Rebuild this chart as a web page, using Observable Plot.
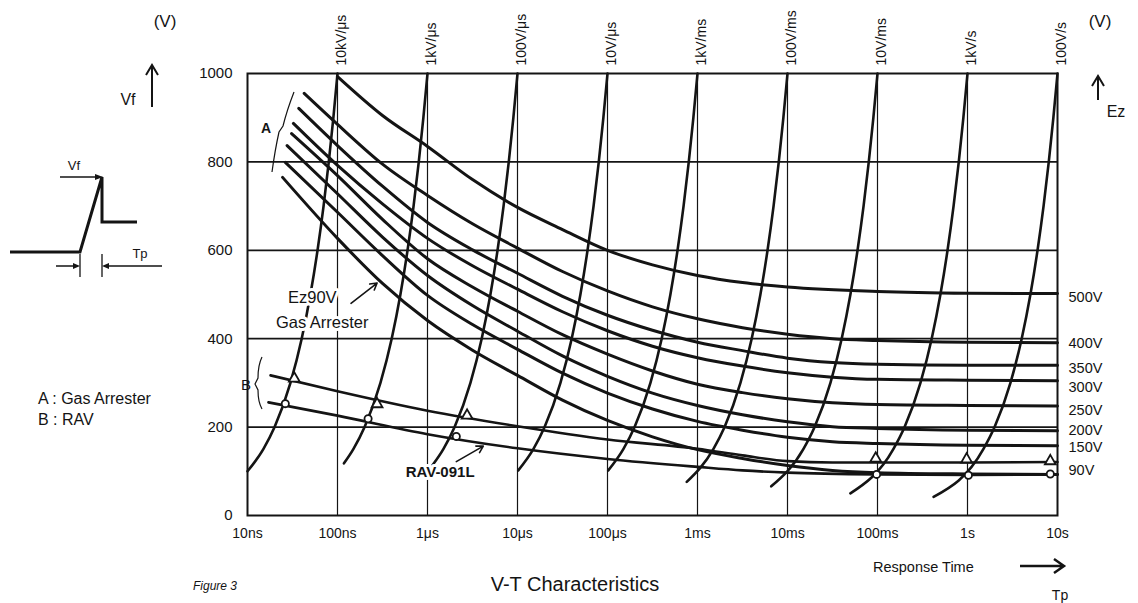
<!DOCTYPE html>
<html><head><meta charset="utf-8">
<script src="https://cdn.jsdelivr.net/npm/d3@7"></script>
<script src="https://cdn.jsdelivr.net/npm/@observablehq/plot@0.6"></script>
<style>body{margin:0;background:#fff} svg{display:block}</style>
</head><body><div id="chart"></div>
<script>
// ---- axis data ----
const decades = [1e-8, 1e-7, 1e-6, 1e-5, 1e-4, 1e-3, 1e-2, 1e-1, 1, 10];
const decadeLabels = ["10ns", "100ns", "1μs", "10μs", "100μs", "1ms", "10ms", "100ms", "1s", "10s"];
const yTicks = [0, 200, 400, 600, 800, 1000];
const gridV = [200, 400, 600, 800];

// ---- ramp (dV/dt) lines ----
const rateLabels = ["10kV/μs", "1kV/μs", "100V/μs", "10V/μs", "1kV/ms", "100V/ms", "10V/ms", "1kV/s", "100V/s"];
const rates = [1e10, 1e9, 1e8, 1e7, 1e6, 1e5, 1e4, 1e3, 1e2];        // V/s
const rampStartV = [100, 118, 113, 102, 102, 76, 66, 50, 42];      // lower end of each ramp (V)
const rampLevels = [150, 200, 300, 400, 500, 600, 700, 800, 900, 1000];

// ---- gas arrester curves (log10 t, V) ----
const ga500 = [[-7.0,993],[-6.5,905],[-6,835],[-5.5,760],[-5,697],[-4.5,647],[-4,600],[-3.5,567],[-3,543],[-2.5,527],[-2,517],[-1,507],[0,503],[1,502]];
const ga400 = [[-7.37,955],[-7,885],[-6.5,795],[-6,724],[-5.5,660],[-5,605],[-4.5,552],[-4,508],[-3.5,472],[-3,445],[-2.5,425],[-2,410],[-1.5,400],[-1,396],[0,392],[1,391]];
const ga350 = [[-7.43,921],[-7,837],[-6.5,745],[-6,663],[-5.5,601],[-5,548],[-4.5,496],[-4,453],[-3.5,419],[-3,392],[-2.5,373],[-2,356],[-1.5,346],[-1,342],[0,340],[1,340]];
const ga300 = [[-7.49,887],[-7,792],[-6.5,705],[-6,627],[-5.5,565],[-5,512],[-4.5,461],[-4,418],[-3.5,383],[-3,357],[-2.5,338],[-2,323],[-1.5,313],[-1,308],[0,306],[1,305]];
const ga250 = [[-7.51,864],[-7,769],[-6.5,670],[-6,581],[-5.5,517],[-5,462],[-4.5,409],[-4,365],[-3.5,327],[-3,297],[-2.5,278],[-2,264],[-1.5,255],[-1,251],[0,249],[1,248]];
const ga200 = [[-7.56,837],[-7,728],[-6.5,630],[-6,543],[-5.5,475],[-5,417],[-4.5,361],[-4,315],[-3.5,277],[-3,249],[-2.5,228],[-2,212],[-1.5,201],[-1,197],[0,193],[1,192]];
const ga150 = [[-7.58,799],[-7,686],[-6.5,588],[-6,498],[-5.5,432],[-5,376],[-4.5,322],[-4,277],[-3.5,241],[-3,213],[-2.5,193],[-2,177],[-1.5,167],[-1,163],[0,159],[1,158]];
const ga90  = [[-7.61,765],[-7,627],[-6.5,525],[-6,441],[-5.5,374],[-5,317],[-4.5,261],[-4,215],[-3.5,178],[-3,149],[-2.5,129],[-2,113],[-1.5,102],[-1,97],[0,94],[1,93]];
const ezLabels = ["500V", "400V", "350V", "300V", "250V", "200V", "150V", "90V"];
const ezLabelV = [493, 389, 333, 290, 238, 192, 154, 102];

// ---- RAV curves (log10 t, V) ----
const ravTri = [[-7.744,317],[-7,281],[-6,237],[-5,202],[-4,172],[-3,151],[-2.5,136],[-2,123],[-1.5,120],[-1,120],[0,120],[1,121]];
const ravCirc = [[-7.767,256],[-7,226],[-6,184],[-5,152],[-4,128],[-3,110],[-2.5,102],[-2,97],[-1,93],[0,92],[1,93]];
const triMarks = [[-7.48,310],[-6.56,252],[-5.56,226],[-1.02,129],[-0.01,127],[0.92,123]];
const circMarks = [[-7.58,253],[-6.66,219],[-5.68,179],[-1.01,93],[0.01,91],[0.92,94]];

// ---- build tables ----
const gasCurves = [ga500, ga400, ga350, ga300, ga250, ga200, ga150, ga90];
const gasRows = gasCurves.flatMap((c, k) => c.map(([lt, v]) => ({t: 10 ** lt, v, k})));
const ravRows = [ravTri, ravCirc].flatMap((c, k) => c.map(([lt, v]) => ({t: 10 ** lt, v, k})));
const rampRows = rates.flatMap((r, k) =>
  [rampStartV[k], ...rampLevels.filter(v => v > rampStartV[k])].map(v => ({t: v / r, v, k})));
const toPts = a => a.map(([lt, v]) => ({t: 10 ** lt, v}));
const ink = "#141414";
const font = "Liberation Sans, Arial, sans-serif";

const plot = Plot.plot({
  width: 1138, height: 603,
  marginLeft: 247, marginRight: 81, marginTop: 73, marginBottom: 88,
  style: {fontFamily: font, fontSize: "14px", color: ink, background: "#fff"},
  x: {type: "log", domain: [1e-8, 10]},
  y: {domain: [0, 1000]},
  marks: [
    Plot.ruleX(decades.slice(1, -1), {stroke: ink, strokeWidth: 1.2}),
    Plot.ruleY(gridV, {stroke: ink, strokeWidth: 1.8}),
    Plot.frame({stroke: ink, strokeWidth: 2}),
    Plot.line(gasRows, {x: "t", y: "v", z: "k", curve: "monotone-x", stroke: ink, strokeWidth: 3}),
    Plot.line(ravRows, {x: "t", y: "v", z: "k", curve: "monotone-x", stroke: ink, strokeWidth: 2.6}),
    Plot.line(rampRows, {x: "t", y: "v", z: "k", curve: "monotone-x", stroke: ink, strokeWidth: 2.6}),
    Plot.dot(toPts(triMarks), {x: "t", y: "v", symbol: "triangle", r: 4, fill: "#fff", stroke: ink, strokeWidth: 1.8}),
    Plot.dot(toPts(circMarks), {x: "t", y: "v", symbol: "circle", r: 3.6, fill: "#fff", stroke: ink, strokeWidth: 1.8}),
    Plot.axisY(yTicks, {tickSize: 0, tickPadding: 15, fontSize: 15, label: null, tickFormat: d => String(d)}),
    Plot.axisX(decades, {tickSize: 0, tickPadding: 13, fontSize: 14, label: null,
      tickFormat: d => decadeLabels[Math.round(Math.log10(d)) + 8]}),
    // rate labels on top
    Plot.text(rates.map((r, i) => ({t: decades[i + 1], lab: rateLabels[i]})), {
      x: "t", y: () => 1000, text: "lab", rotate: -90, textAnchor: "start", dy: -8, dx: 4,
      fontSize: 14, fill: ink}),
    // Ez labels at right
    Plot.text(ezLabels.map((s, i) => ({s, v: ezLabelV[i]})), {
      x: () => 10, y: "v", text: "s", textAnchor: "start", dx: 11, fontSize: 14.5, fill: ink}),
    // annotations
    Plot.arrow([{x1: 10 ** -6.85, y1: 480, x2: 10 ** -6.56, y2: 526}], {
      x1: "x1", y1: "y1", x2: "x2", y2: "y2", stroke: ink, strokeWidth: 1.6, headLength: 7}),
    Plot.arrow([{x1: 10 ** -5.68, y1: 122, x2: 10 ** -5.38, y2: 157}], {
      x1: "x1", y1: "y1", x2: "x2", y2: "y2", stroke: ink, strokeWidth: 1.6, headLength: 7}),
    Plot.text([{t: 10 ** -7.28, v: 493, s: "Ez90V"}, {t: 10 ** -7.17, v: 437, s: "Gas Arrester"}], {
      x: "t", y: "v", text: "s", fontSize: 16.5, fill: ink,
      stroke: "#fff", strokeWidth: 6, letterSpacing: "0.6px"}),
    Plot.text([{t: 10 ** -5.86, v: 97, s: "RAV-091L"}], {
      x: "t", y: "v", text: "s", fontSize: 15, fontWeight: "bold", fill: ink,
      stroke: "#fff", strokeWidth: 6, letterSpacing: "1px"})
  ]
});
document.getElementById("chart").append(plot);

// ---- decorations outside the plot area ----
const svg = d3.select(plot);
const deco = svg.append("g").attr("fill", "none").attr("stroke", ink).attr("stroke-linecap", "butt");
// inset waveform
deco.append("path").attr("d", "M10,252 H80 L102,177 V222 H137").attr("stroke-width", 3);
deco.append("path").attr("d", "M60,177 H97").attr("stroke-width", 1.3);
deco.append("path").attr("d", "M80,254 V277 M102,254 V277").attr("stroke-width", 1.3);
deco.append("path").attr("d", "M56,266 H76 M162,266 H106").attr("stroke-width", 1.3);
const heads = svg.append("g").attr("fill", ink);
heads.append("path").attr("d", "M95,174 L103,177 L95,180Z");
heads.append("path").attr("d", "M73,263 L80,266 L73,269Z");
heads.append("path").attr("d", "M109,263 L102,266 L109,269Z");
// up arrows
deco.append("path").attr("d", "M152,107 V66 M146,75 L152,65 L158,75").attr("stroke-width", 2);
deco.append("path").attr("d", "M1098,100 V77 M1092,86 L1098,76 L1104,86").attr("stroke-width", 2);
deco.append("path").attr("d", "M1020,566 H1062 M1054,559 L1064,566 L1054,573").attr("stroke-width", 2.5);
// brackets A and B
deco.append("path").attr("d", "M294,92 Q287,110 283,126 L279,132 Q275,150 272,172").attr("stroke-width", 1.2);
deco.append("path").attr("d", "M262,357 Q258,365 258,378 L255,384 L258,390 Q258,402 262,409").attr("stroke-width", 1.2);

const txt = (x, y, s, size, opts = {}) => svg.append("text")
  .attr("x", x).attr("y", y).attr("fill", ink).attr("font-family", font)
  .attr("font-size", size).attr("text-anchor", opts.anchor || "start")
  .attr("font-style", opts.italic ? "italic" : null)
  .attr("font-weight", opts.bold ? "bold" : null).text(s);
txt(165, 27, "(V)", 17, {anchor: "middle"});
txt(1100, 27, "(V)", 17, {anchor: "middle"});
txt(128, 105, "Vf", 16, {anchor: "middle"});
txt(1116, 117, "Ez", 16, {anchor: "middle"});
txt(74, 170, "Vf", 13, {anchor: "middle"});
txt(140, 258, "Tp", 13, {anchor: "middle"});
txt(266, 133, "A", 14, {anchor: "middle", bold: true});
txt(246, 390, "B", 15, {anchor: "middle"});
txt(38, 404, "A : Gas Arrester", 16);
txt(38, 425, "B : RAV", 16);
txt(193, 590, "Figure 3", 12, {italic: true});
txt(575, 591, "V-T Characteristics", 20, {anchor: "middle"});
txt(873, 572, "Response Time", 14.5);
txt(1060, 600, "Tp", 14, {anchor: "middle"});
</script>
</body></html>
